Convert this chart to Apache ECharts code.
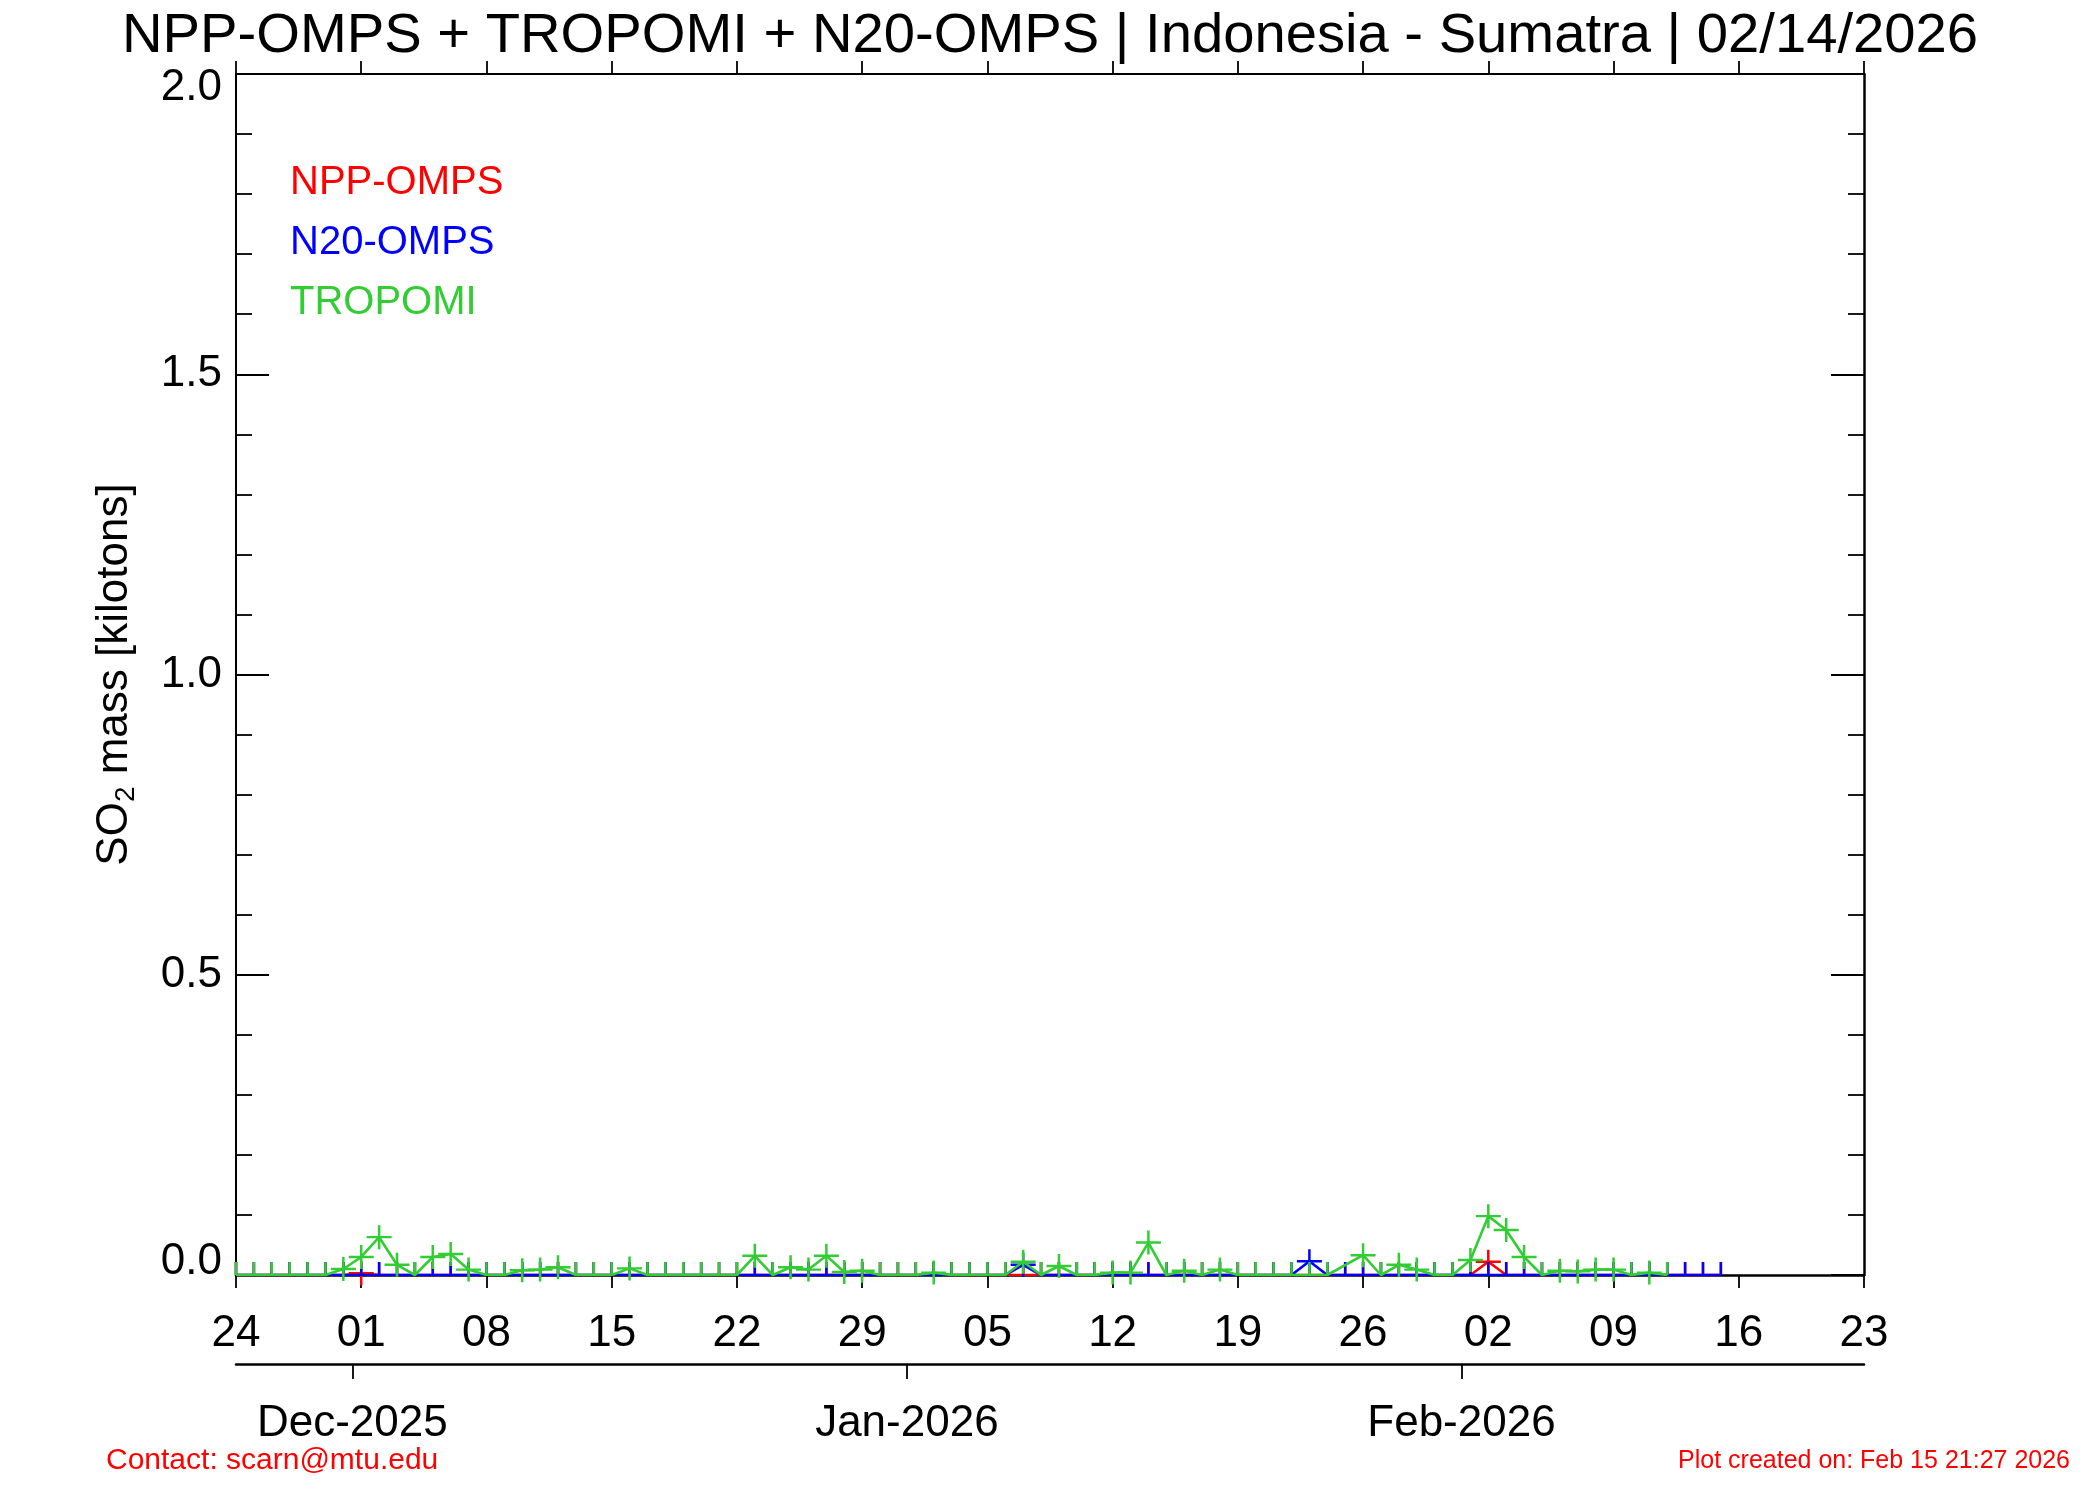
<!DOCTYPE html>
<html>
<head>
<meta charset="utf-8">
<script src="https://cdn.jsdelivr.net/npm/echarts@6/dist/echarts.min.js"></script>
<style>
html,body{margin:0;padding:0;background:#fff;}
#chart{width:2100px;height:1500px;}
</style>
</head>
<body>
<div id="chart"></div>
<script>
// ---- data (x = days since 2025-11-24) ----
const startDate = '2025-11-24';
const dayTickLabels = ["24","01","08","15","22","29","05","12","19","26","02","09","16","23"];
const monthTickDays = [6.5, 37.5, 68.5];
const monthLabels = ["Dec-2025","Jan-2026","Feb-2026"];
const seriesNames = ["NPP-OMPS","N20-OMPS","TROPOMI"];
const seriesColors = ["#ff0000","#0000ff","#32cd32"];

// SO2 mass [kilotons], one value per day starting at startDate (null = no data)
const nppOmps = [
  0,0,0,0,0,0,0,0.003,0,0,
  0,0,0,0,0,0,0,0,0,0,
  0,0,0,0,0,0,0,0,0,0,
  0,0,0,0,0,0,0,0,0,0,
  0,0,0,0,0,0,0,0,0,0,
  0,0,0,0,0,0,0,0,0,0,
  0,0,0,0,0,0,0,0,0,0,
  0.022,0,0,0,0,0,0,0,0,0,
  0,0,0,0
];
const n20Omps = [
  0,0,0,0,0,0,0,0,0,0,
  0,0,0,0,0,0,0,0,0,0,
  0,0,0,0,0,0,0,0,0,0,
  0,0,0,0,0,0,0,0,0,0,
  0,0,0,0,0.017,0,0,0,0,0,
  0,0,0,0,0,0,0,0,0,0,
  0.023,0,0,0,0,0,0,0,0,0,
  0,0,0,0,0,0,0,0,0,0,
  0,0,0,0
];
const tropomi = [
  0,0,0,0,0,0,0.010,0.030,0.063,0.017,
  0,0.030,0.035,0.009,0,0,0.008,0.009,0.013,0,
  0,0,0.011,0,0,0,0,0,0,0.032,
  0,0.013,0.009,0.032,0.005,0.007,0,0,0,0.004,
  0,0,0,0,0.022,0,0.015,0,0,0.004,
  0.004,0.054,0,0.007,0,0.009,0,0,0,0,
  0,0,null,0.033,0,0.017,0.009,0,0,0.025,
  0.098,0.075,0.030,0,0.007,0.006,0.009,0.009,0,0.004,
  0
];
const seriesValues = [nppOmps, n20Omps, tropomi];

// ---- chart ----
const FONT = "'Liberation Sans', Arial, Helvetica, sans-serif";
const t = 0.1;
const crossPath = `path://M-1,-${t}L-${t},-${t}L-${t},-1L${t},-1L${t},-${t}L1,-${t}L1,${t}L${t},${t}L${t},1L-${t},1L-${t},${t}L-1,${t}Z`;

function buildData(vals) {
  const out = [];
  vals.forEach((v, i) => {
    if (v === null) return;
    if (v > 0) {
      out.push({ value: [i, v], symbol: crossPath, symbolSize: [25, 24], symbolOffset: [0, 0] });
    } else {
      out.push({ value: [i, v], symbol: 'rect', symbolSize: [2.5, 13], symbolOffset: [0, -6.5] });
    }
  });
  return out;
}

const chart = echarts.init(document.getElementById('chart'), null, { renderer: 'canvas' });
const black = '#000';

const option = {
  animation: false,
  backgroundColor: '#fff',
  textStyle: { fontFamily: FONT },
  title: [
    {
      text: 'NPP-OMPS + TROPOMI + N20-OMPS | Indonesia - Sumatra | 02/14/2026',
      left: 'center', top: 4,
      textStyle: { fontFamily: FONT, fontSize: 56.2, fontWeight: 'normal', color: black, lineHeight: 56 }
    },
    {
      text: 'Contact: scarn@mtu.edu',
      left: 101, top: 1441,
      textStyle: { fontFamily: FONT, fontSize: 30, fontWeight: 'normal', color: '#ff0000', lineHeight: 30 }
    },
    {
      text: 'Plot created on: Feb 15 21:27 2026',
      right: 25, top: 1444,
      textStyle: { fontFamily: FONT, fontSize: 25, fontWeight: 'normal', color: '#ff0000', lineHeight: 25 }
    }
  ],
  legend: {
    orient: 'vertical',
    left: 280, top: 158,
    icon: 'none',
    itemWidth: 0, itemHeight: 40, itemGap: 20,
    selectedMode: false,
    textStyle: { fontFamily: FONT, fontSize: 40, lineHeight: 40 },
    data: seriesNames.map((n, i) => ({ name: n, textStyle: { color: seriesColors[i] } }))
  },
  grid: { left: 236, right: 236, top: 74, bottom: 225, containLabel: false, outerBoundsMode: 'none' },
  xAxis: [
    {
      type: 'value', min: 0, max: 91, interval: 7, position: 'bottom',
      axisLine: { show: true, onZero: false, lineStyle: { color: black, width: 2.5 } },
      axisTick: { show: true, length: 13, lineStyle: { color: black, width: 1.8 } },
      axisLabel: {
        show: true, margin: 37, fontSize: 44, lineHeight: 44, color: black, fontFamily: FONT,
        formatter: v => dayTickLabels[Math.round(v / 7)]
      },
      splitLine: { show: false }
    },
    {
      type: 'value', min: 0, max: 91, interval: 7, position: 'top',
      axisLine: { show: true, onZero: false, lineStyle: { color: black, width: 2 } },
      axisTick: { show: true, length: 13, lineStyle: { color: black, width: 1.8 } },
      axisLabel: { show: false },
      splitLine: { show: false }
    },
    {
      type: 'value', min: 0, max: 91, position: 'bottom', offset: 89,
      axisLine: { show: true, onZero: false, lineStyle: { color: black, width: 2.5 } },
      axisTick: { show: true, length: 15, customValues: monthTickDays, lineStyle: { color: black, width: 1.8 } },
      axisLabel: {
        show: true, margin: 38, fontSize: 44, lineHeight: 44, color: black, fontFamily: FONT,
        customValues: monthTickDays,
        formatter: v => monthLabels[monthTickDays.indexOf(v)]
      },
      splitLine: { show: false }
    }
  ],
  yAxis: [
    {
      type: 'value', min: 0, max: 2, interval: 0.5, position: 'left',
      axisLine: { show: true, onZero: false, lineStyle: { color: black, width: 2 } },
      axisTick: { show: true, inside: true, length: 33, lineStyle: { color: black, width: 1.8 } },
      minorTick: { show: true, splitNumber: 5, length: 16, lineStyle: { color: black, width: 1.8 } },
      splitLine: { show: false }, minorSplitLine: { show: false },
      axisLabel: {
        show: true, margin: 14, color: black, fontFamily: FONT, fontSize: 44,
        formatter: v => {
          const s = v.toFixed(1);
          if (v >= 2) return '{top|' + s + '}';
          if (v <= 0) return '{bot|' + s + '}';
          return '{mid|' + s + '}';
        },
        rich: {
          top: { fontSize: 44, fontFamily: FONT, color: black, padding: [28, 0, 0, 0] },
          bot: { fontSize: 44, fontFamily: FONT, color: black, padding: [0, 0, 26, 0] },
          mid: { fontSize: 44, fontFamily: FONT, color: black }
        }
      },
      name: '{a|SO}{b|2}{a| mass [kilotons]}',
      nameLocation: 'middle', nameRotate: 90, nameGap: 96,
      nameTextStyle: {
        fontFamily: FONT, color: black,
        rich: {
          a: { fontSize: 44, fontFamily: FONT, color: black, lineHeight: 50 },
          b: { fontSize: 28, fontFamily: FONT, color: black, lineHeight: 20, verticalAlign: 'bottom' }
        }
      }
    },
    {
      type: 'value', min: 0, max: 2, interval: 0.5, position: 'right',
      axisLine: { show: true, onZero: false, lineStyle: { color: black, width: 2.5 } },
      axisTick: { show: true, inside: true, length: 33, lineStyle: { color: black, width: 1.8 } },
      minorTick: { show: true, splitNumber: 5, length: 16, lineStyle: { color: black, width: 1.8 } },
      splitLine: { show: false }, minorSplitLine: { show: false },
      axisLabel: { show: false }
    }
  ],
  series: seriesNames.map((n, i) => ({
    name: n,
    type: 'line',
    xAxisIndex: 0, yAxisIndex: 0,
    data: buildData(seriesValues[i]),
    connectNulls: true,
    showAllSymbol: true,
    clip: true,
    color: seriesColors[i],
    itemStyle: { color: seriesColors[i], borderWidth: 0 },
    lineStyle: { color: seriesColors[i], width: 2.6 },
    emphasis: { disabled: true },
    z: 2 + i
  }))
};
chart.setOption(option);
</script>
</body>
</html>
